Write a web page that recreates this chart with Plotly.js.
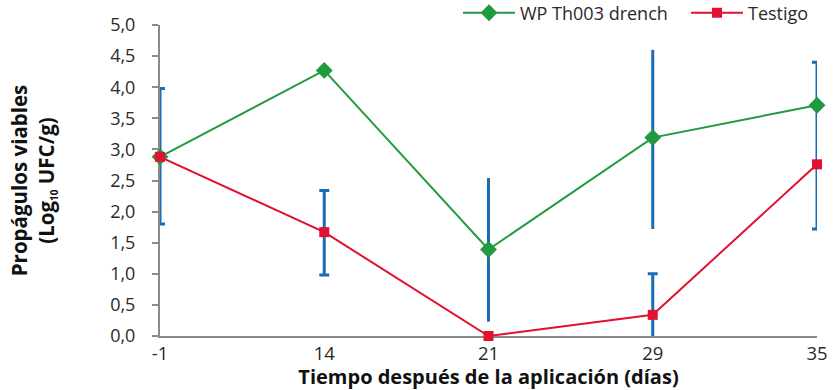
<!DOCTYPE html>
<html>
<head>
<meta charset="utf-8">
<script src="https://cdn.plot.ly/plotly-3.0.1.min.js"></script>
<style>html,body{margin:0;padding:0;background:#fff;}#chart{width:836px;height:390px;}</style>
</head>
<body>
<div id="chart"></div>
<script>
// ---- data ----
const categories = ["-1", "14", "21", "29", "35"];
const seriesNames = ["WP Th003 drench", "Testigo"];
const wpValues = [2.88, 4.27, 1.39, 3.19, 3.71];
const testigoValues = [2.88, 1.67, 0.0, 0.34, 2.76];
// error bars (null = no bar)
const wpErrPlus = [null, null, 1.15, 1.41, null];
const wpErrMinus = [null, null, 1.16, 1.47, null];
const testigoErrPlus = [1.10, 0.67, null, 0.66, 1.64];
const testigoErrMinus = [1.08, 0.69, null, 0.66, 1.04];
const yTicks = [0, 0.5, 1, 1.5, 2, 2.5, 3, 3.5, 4, 4.5, 5];

// ---- styles ----
const GREEN = "#1f9a3e", RED = "#e3102f", BLUE = "#1a6db4", AXIS = "#8a8a8a";
const FONT = "Open Sans, sans-serif";

function errTrace(vals, plus, minus, capWidth) {
  const idx = plus.map((v, i) => v == null ? -1 : i).filter(i => i >= 0);
  return {
    type: "scatter", mode: "markers", showlegend: false, hoverinfo: "skip",
    x: idx.map(i => categories[i]), y: idx.map(i => vals[i]),
    marker: {size: 1, opacity: 0},
    error_y: {type: "data", symmetric: false,
      array: idx.map(i => plus[i]), arrayminus: idx.map(i => minus[i]),
      color: BLUE, thickness: 3, width: capWidth}
  };
}

const traces = [
  errTrace(wpValues, wpErrPlus, wpErrMinus, 0),
  errTrace(testigoValues, testigoErrPlus, testigoErrMinus, 5),
  {type: "scatter", mode: "lines+markers", name: seriesNames[0], legend: "legend",
   x: categories, y: wpValues, cliponaxis: false,
   line: {color: GREEN, width: 2}, marker: {symbol: "diamond", size: 13, color: GREEN}},
  {type: "scatter", mode: "lines+markers", name: seriesNames[1], legend: "legend2",
   x: categories, y: testigoValues, cliponaxis: false,
   line: {color: RED, width: 2}, marker: {symbol: "square", size: 10, color: RED}}
];

const legendFont = {size: 18, family: FONT, color: "#2a2a2a"};
const layout = {
  width: 836, height: 390,
  margin: {l: 160, r: 19, t: 25, b: 54, pad: 0, autoexpand: false},
  paper_bgcolor: "#fff", plot_bgcolor: "#fff",
  separators: ",.",
  font: {family: FONT, color: "#2a2a2a"},
  showlegend: true,
  legend: {orientation: "h", x: (458 - 160) / 657, xanchor: "left", y: 1 + 12 / 311, yanchor: "middle",
    font: legendFont, itemwidth: 52, bgcolor: "rgba(0,0,0,0)"},
  legend2: {orientation: "h", x: (686 - 160) / 657, xanchor: "left", y: 1 + 12 / 311, yanchor: "middle",
    font: legendFont, itemwidth: 52, bgcolor: "rgba(0,0,0,0)"},
  xaxis: {type: "category", categoryorder: "array", categoryarray: categories,
    range: [0, 4], showgrid: false, zeroline: false, layer: "below traces",
    showline: true, linecolor: AXIS, linewidth: 2, ticks: "",
    tickfont: {size: 18.5, family: FONT, color: "#2a2a2a"}, ticklabelstandoff: 0,
    title: {text: "<b>Tiempo después de la aplicación (días)</b>", font: {size: 20, family: FONT, color: "#111"}, standoff: 2}},
  yaxis: {range: [0, 5], tickvals: yTicks, tickformat: ".1f", showgrid: false, zeroline: false, layer: "below traces",
    showline: true, linecolor: AXIS, linewidth: 2, ticks: "outside", ticklen: 6, tickcolor: AXIS, tickwidth: 2,
    tickfont: {size: 18, family: FONT, color: "#2a2a2a"}, ticklabelstandoff: 13,
    title: {text: "<b>Propágulos viables<br>(Log<sub><span style=\"font-size:10px\">10</span></sub> UFC/g)</b>", font: {size: 20.5, family: FONT, color: "#111"}, standoff: 50}}
};

Plotly.newPlot("chart", traces, layout, {displayModeBar: false, staticPlot: true});
</script>
</body>
</html>
